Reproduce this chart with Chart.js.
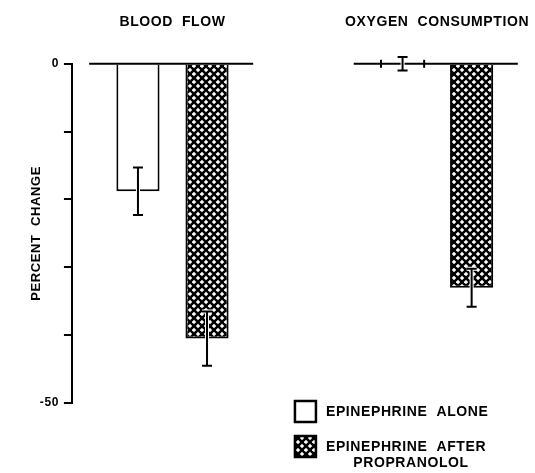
<!DOCTYPE html>
<html>
<head>
<meta charset="utf-8">
<script src="https://cdn.jsdelivr.net/npm/chart.js@4.4.0/dist/chart.umd.min.js"></script>
<style>
  html, body { margin: 0; padding: 0; background: #fff; }
  #wrap { width: 535px; height: 473px; }
</style>
</head>
<body>
<div id="wrap"><canvas id="chart"></canvas></div>
<script>
'use strict';
// data (percent change, mean and error)
const groups = ['BLOOD  FLOW', 'OXYGEN  CONSUMPTION'];
const seriesNames = ['EPINEPHRINE  ALONE', 'EPINEPHRINE  AFTER'];
const seriesSub = ['', 'PROPRANOLOL'];
const aloneMean = [-18.8, 0];
const aloneErr = [3.5, 1];
const afterMean = [-40.5, -33];
const afterErr = [4, 2.8];
const yLabels = [0, -50];

const ctx = document.getElementById('chart').getContext('2d');
const FONT = "'Liberation Sans', Arial, sans-serif";

function makeHatch() {
    const c = document.createElement('canvas');
    c.width = 8; c.height = 8;
    const g = c.getContext('2d');
    g.fillStyle = '#000';
    g.fillRect(0, 0, 8, 8);
    g.fillStyle = '#fff';
    const r = 2.2;
    [[2, 2], [6, 6]].forEach(([x, y]) => {
        g.beginPath();
        g.moveTo(x, y - r); g.lineTo(x + r, y); g.lineTo(x, y + r); g.lineTo(x - r, y);
        g.closePath();
        g.fill();
    });
    return ctx.createPattern(c, 'repeat');
}
const hatch = makeHatch();

const means = [aloneMean, afterMean];
const errs = [aloneErr, afterErr];

const figurePlugin = {
    id: 'figure',
    beforeDraw(chart) {
        chart.ctx.letterSpacing = '0.6px';
    },
    afterDatasetsDraw(chart) {
        const c = chart.ctx;
        const xs = chart.scales.x, ys = chart.scales.y;
        const base = ys.getPixelForValue(0);
        c.save();
        c.strokeStyle = '#000';
        c.lineCap = 'butt';
        // zero line, one piece per group
        c.lineWidth = 2;
        groups.forEach((g, i) => {
            c.beginPath();
            c.moveTo(xs.getPixelForValue(i - 0.315), base);
            c.lineTo(xs.getPixelForValue(i + 0.305), base);
            c.stroke();
        });
        // error bars
        chart.data.datasets.forEach((ds, di) => {
            chart.getDatasetMeta(di).data.forEach((el, i) => {
                const m = means[di][i], e = errs[di][i];
                const x = el.x;
                if (Math.abs(m) < 1) {
                    const hw = el.width / 2;
                    c.lineWidth = 2;
                    [x - hw, x + hw].forEach(px => {
                        c.beginPath();
                        c.moveTo(px, base - 4);
                        c.lineTo(px, base + 4);
                        c.stroke();
                    });
                }
                const y1 = ys.getPixelForValue(m + e);
                const y2 = ys.getPixelForValue(m - e);
                const cap = 5;
                [['#fff', 4], ['#000', 2]].forEach(([col, w]) => {
                    c.strokeStyle = col;
                    c.lineWidth = w;
                    c.beginPath();
                    c.moveTo(x, y1); c.lineTo(x, y2);
                    c.moveTo(x - cap, y1); c.lineTo(x + cap, y1);
                    c.moveTo(x - cap, y2); c.lineTo(x + cap, y2);
                    c.stroke();
                });
            });
        });
        c.restore();
    },
    afterDraw(chart) {
        const c = chart.ctx;
        const a = chart.chartArea;
        c.save();
        c.letterSpacing = '0.6px';
        c.font = 'bold 14px ' + FONT;
        c.fillStyle = '#000';
        c.textBaseline = 'middle';
        const fills = ['#fff', hatch];
        seriesNames.forEach((name, i) => {
            const bx = a.left + 223, by = a.bottom - 2 + i * 35, bs = 21;
            c.fillStyle = fills[i];
            c.fillRect(bx, by, bs, bs);
            c.strokeStyle = '#000';
            c.lineWidth = 2.5;
            c.strokeRect(bx, by, bs, bs);
            c.fillStyle = '#000';
            const tx = bx + 31, ty = by + bs / 2 + 1;
            c.textAlign = 'left';
            c.fillText(name, tx, ty);
            if (seriesSub[i]) {
                const w = c.measureText(name).width;
                c.textAlign = 'center';
                c.fillText(seriesSub[i], tx + w / 2 + 5, ty + 16);
            }
        });
        c.restore();
    }
};

new Chart(ctx, {
    type: 'bar',
    data: {
        datasets: [
            {
                label: seriesNames[0],
                data: groups.map((g, i) => ({x: i, y: aloneMean[i]})),
                backgroundColor: '#fff',
                borderColor: '#000',
                borderWidth: 2,
            },
            {
                label: seriesNames[1] + ' ' + seriesSub[1],
                data: groups.map((g, i) => ({x: i, y: afterMean[i]})),
                backgroundColor: hatch,
                borderColor: '#000',
                borderWidth: 2,
            },
        ],
    },
    options: {
        responsive: true,
        maintainAspectRatio: false,
        animation: false,
        categoryPercentage: 0.522,
        barPercentage: 0.625,
        layout: {
            padding: {top: -19, left: 29, right: 0, bottom: 70},
        },
        scales: {
            x: {
                type: 'linear',
                position: 'top',
                offset: false,
                min: -0.38,
                max: 1.37,
                grid: {display: false, drawTicks: false},
                border: {display: false},
                afterBuildTicks: (axis) => {
                    axis.ticks = groups.map((g, i) => ({value: i}));
                },
                afterFit: (axis) => {
                    axis.paddingLeft = 0;
                    axis.paddingRight = 0;
                },
                ticks: {
                    padding: 33,
                    maxRotation: 0,
                    autoSkip: false,
                    color: '#000',
                    font: {family: FONT, size: 14, weight: 'bold'},
                    callback: (v) => groups[v],
                },
            },
            y: {
                min: -50,
                max: 0,
                grid: {
                    drawOnChartArea: false,
                    drawTicks: true,
                    tickLength: 8,
                    color: '#000',
                    lineWidth: 2,
                },
                border: {display: true, color: '#000', width: 2},
                ticks: {
                    stepSize: 10,
                    padding: 5,
                    color: '#000',
                    font: {family: FONT, size: 12, weight: 'bold'},
                    callback: (v) => yLabels.includes(v) ? String(v) : '',
                },
                title: {
                    display: true,
                    text: 'PERCENT  CHANGE',
                    color: '#000',
                    padding: {top: 0, bottom: -8},
                    font: {family: FONT, size: 13, weight: 'bold'},
                },
            },
        },
        plugins: {
            legend: {display: false},
            tooltip: {enabled: false},
        },
    },
    plugins: [figurePlugin],
});
</script>
</body>
</html>
